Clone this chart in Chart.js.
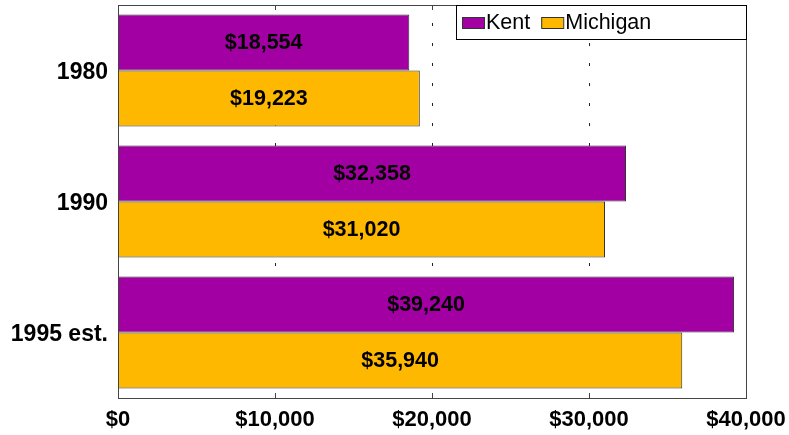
<!DOCTYPE html>
<html>
<head>
<meta charset="utf-8">
<script src="https://cdn.jsdelivr.net/npm/chart.js@4/dist/chart.umd.min.js"></script>
<style>
  html, body { margin: 0; padding: 0; background: #fff; }
</style>
</head>
<body>
<canvas id="chart" width="789" height="435"></canvas>
<script>
const years = ['1980', '1990', '1995 est.']
const kent = [18554, 32358, 39240]
const michigan = [19223, 31020, 35940]
const xTicks = [0, 10000, 20000, 30000, 40000]

const FONT = '"Liberation Sans", Arial, sans-serif'
const money = v => '$' + v.toLocaleString('en-US')

// frame, sparse dotted grid and inward tick marks
const framePlugin = {
  id: 'frame',
  beforeDatasetsDraw(chart) {
    const { ctx, chartArea: a, scales: { x } } = chart
    ctx.save()
    ctx.strokeStyle = '#222'
    ctx.lineWidth = 1
    ctx.setLineDash([3, 17])
    ctx.lineDashOffset = 2
    xTicks.slice(1, -1).forEach(v => {
      const px = Math.round(x.getPixelForValue(v)) + 0.5
      ctx.beginPath()
      ctx.moveTo(px, a.top)
      ctx.lineTo(px, a.bottom)
      ctx.stroke()
    })
    ctx.restore()
  },
  afterDatasetsDraw(chart) {
    const { ctx, chartArea: a, scales: { x } } = chart
    ctx.save()
    ctx.strokeStyle = '#444'
    ctx.lineWidth = 1
    ctx.strokeRect(Math.round(a.left) + 0.5, Math.round(a.top) + 0.5, Math.round(a.right - a.left), Math.round(a.bottom - a.top))
    xTicks.slice(1, -1).forEach(v => {
      const px = Math.round(x.getPixelForValue(v)) + 0.5
      ctx.beginPath()
      ctx.moveTo(px, a.top)
      ctx.lineTo(px, a.top + 5)
      ctx.moveTo(px, a.bottom)
      ctx.lineTo(px, a.bottom - 5)
      ctx.stroke()
    })
    ctx.restore()
  },
}

// values written in the middle of each bar
const valuePlugin = {
  id: 'values',
  afterDatasetsDraw(chart) {
    const { ctx } = chart
    ctx.save()
    ctx.font = 'bold 21.5px ' + FONT
    ctx.fillStyle = '#000'
    ctx.textAlign = 'center'
    ctx.textBaseline = 'middle'
    chart.data.datasets.forEach((ds, i) => {
      chart.getDatasetMeta(i).data.forEach((bar, j) => {
        ctx.fillText(money(ds.data[j]), (bar.x + bar.base) / 2, bar.y + 1)
      })
    })
    ctx.restore()
  },
}

// boxed legend inside the top right of the plot
const legendPlugin = {
  id: 'boxLegend',
  afterDraw(chart) {
    const { ctx, chartArea: a } = chart
    const left = 456, top = Math.round(a.top), right = Math.round(a.right), bottom = 39
    ctx.save()
    ctx.fillStyle = '#fff'
    ctx.fillRect(left, top, right - left, bottom - top)
    ctx.strokeStyle = '#000'
    ctx.lineWidth = 1
    ctx.strokeRect(left + 0.5, top + 0.5, right - left, bottom - top)
    ctx.font = '21.5px ' + FONT
    ctx.textBaseline = 'middle'
    let px = 462
    chart.data.datasets.forEach(ds => {
      ctx.fillStyle = ds.backgroundColor
      ctx.fillRect(px, 17, 22, 11)
      ctx.strokeStyle = '#333'
      ctx.strokeRect(px + 0.5, 17.5, 22, 11)
      ctx.fillStyle = '#000'
      ctx.fillText(ds.label, px + 24, 23)
      px += 24 + ctx.measureText(ds.label).width + 11
    })
    ctx.restore()
  },
}

new Chart(document.getElementById('chart'), {
  type: 'bar',
  data: {
    labels: years,
    datasets: [
      { label: 'Kent', data: kent, backgroundColor: '#A200A2', borderColor: '#333', borderWidth: 1, borderSkipped: false },
      { label: 'Michigan', data: michigan, backgroundColor: '#FFB800', borderColor: '#333', borderWidth: 1, borderSkipped: false },
    ],
  },
  options: {
    indexAxis: 'y',
    responsive: false,
    animation: false,
    barPercentage: 1,
    categoryPercentage: 0.855,
    layout: { padding: { top: 5, right: 43, bottom: 0, left: 0 } },
    scales: {
      x: {
        min: 0,
        max: 40000,
        afterBuildTicks: scale => { scale.ticks = xTicks.map(v => ({ value: v })) },
        afterFit: scale => {
          scale.height = 37
          scale.paddingLeft = 0
          scale.paddingRight = 0
        },
        grid: { display: false },
        border: { display: false },
        ticks: {
          color: '#000',
          padding: 1,
          maxRotation: 0,
          font: { family: FONT, size: 22, weight: 'bold' },
          callback: v => money(v),
        },
      },
      y: {
        afterFit: scale => {
          scale.width = 118
          scale.paddingTop = 0
          scale.paddingBottom = 0
        },
        grid: { display: false },
        border: { display: false },
        ticks: {
          color: '#000',
          padding: 2,
          labelOffset: 2,
          font: { family: FONT, size: 23, weight: 'bold' },
        },
      },
    },
    plugins: {
      legend: { display: false },
      tooltip: { enabled: false },
    },
  },
  plugins: [framePlugin, valuePlugin, legendPlugin],
})
</script>
</body>
</html>
